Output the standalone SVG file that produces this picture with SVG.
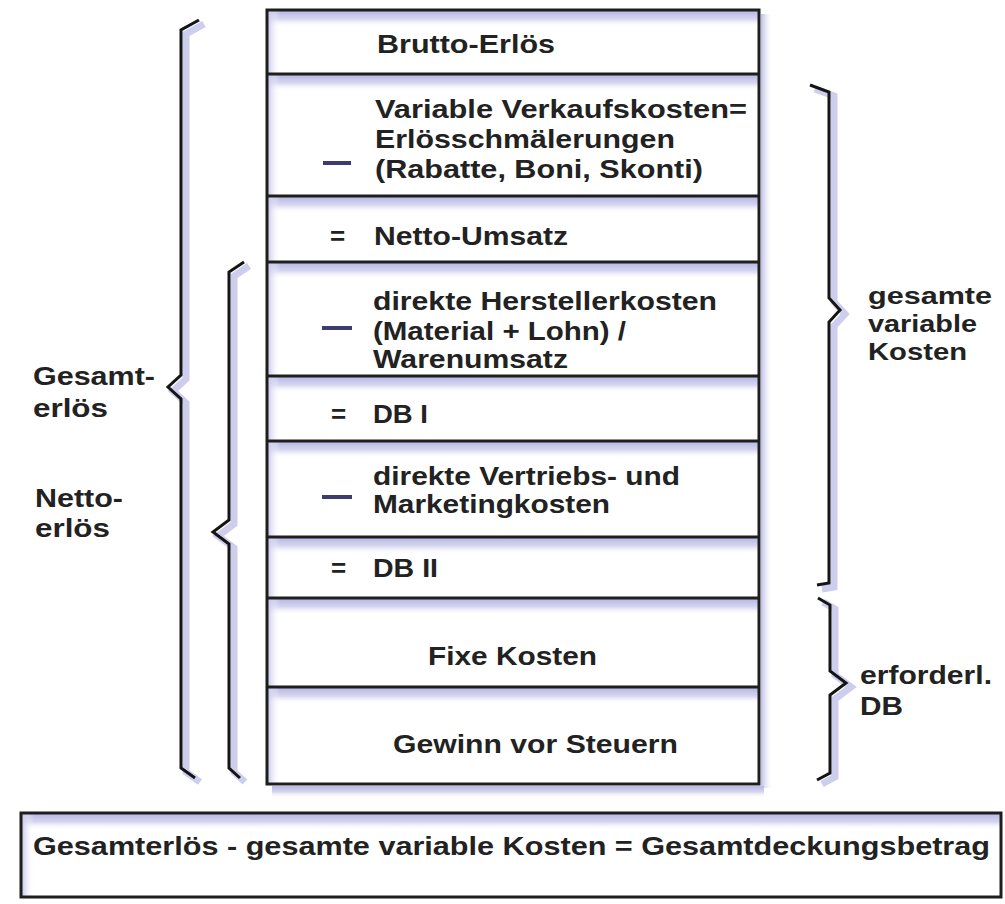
<svg xmlns="http://www.w3.org/2000/svg" width="1005" height="904" viewBox="0 0 1005 904">
<defs>
<linearGradient id="gTop" x1="0" y1="0" x2="0" y2="1"><stop offset="0" stop-color="#b8b8e4"/><stop offset="0.5" stop-color="#d6d6f0"/><stop offset="1" stop-color="#ffffff" stop-opacity="0"/></linearGradient>
<linearGradient id="gLeft" x1="0" y1="0" x2="1" y2="0"><stop offset="0" stop-color="#c8c8ec"/><stop offset="1" stop-color="#ffffff" stop-opacity="0"/></linearGradient>
<linearGradient id="gRight" x1="0" y1="0" x2="1" y2="0"><stop offset="0" stop-color="#bcbce6"/><stop offset="1" stop-color="#ffffff" stop-opacity="0"/></linearGradient>
</defs>
<style>
.t{font-family:"Liberation Sans",Arial,sans-serif;font-weight:bold;font-size:26px;fill:#222}
.s{font-size:24px}
.ln{stroke:#1e1e1e;stroke-width:3;fill:none}
.br{stroke:#151515;stroke-width:3;fill:none;stroke-linejoin:miter}
.bs{stroke:#c4c4ea;stroke-width:7;fill:none;opacity:0.85}
.dash{stroke:#3c3c6e;stroke-width:4}
</style>
<rect width="1005" height="904" fill="#ffffff"/>

<rect x="761" y="14" width="12" height="774" fill="url(#gRight)"/>
<rect x="272" y="786" width="492" height="12" fill="url(#gTop)"/>

<g id="rows">
<g id="row-brutto"><rect x="268" y="11" width="490" height="16" fill="url(#gTop)"/><rect x="268" y="11" width="12" height="63" fill="url(#gLeft)"/><text class="t" x="377" y="53" textLength="178" lengthAdjust="spacingAndGlyphs">Brutto-Erlös</text></g>
<g id="row-varverk"><rect x="268" y="75" width="490" height="16" fill="url(#gTop)"/><rect x="268" y="75" width="12" height="120" fill="url(#gLeft)"/><line class="dash" x1="323" y1="163" x2="351" y2="163"/><text class="t" x="375" y="118" textLength="372" lengthAdjust="spacingAndGlyphs">Variable Verkaufskosten=</text><text class="t" x="375" y="148" textLength="300" lengthAdjust="spacingAndGlyphs">Erlösschmälerungen</text><text class="t" x="375" y="178" textLength="328" lengthAdjust="spacingAndGlyphs">(Rabatte, Boni, Skonti)</text></g>
<g id="row-netto"><rect x="268" y="197" width="490" height="16" fill="url(#gTop)"/><rect x="268" y="197" width="12" height="64" fill="url(#gLeft)"/><text class="t" x="330" y="245">=</text><text class="t" x="374" y="245" textLength="194" lengthAdjust="spacingAndGlyphs">Netto-Umsatz</text></g>
<g id="row-herst"><rect x="268" y="263" width="490" height="16" fill="url(#gTop)"/><rect x="268" y="263" width="12" height="112" fill="url(#gLeft)"/><line class="dash" x1="322" y1="328" x2="352" y2="328"/><text class="t" x="373" y="310" textLength="344" lengthAdjust="spacingAndGlyphs">direkte Herstellerkosten</text><text class="t" x="373" y="340" textLength="253" lengthAdjust="spacingAndGlyphs">(Material + Lohn) /</text><text class="t" x="373" y="368" textLength="195" lengthAdjust="spacingAndGlyphs">Warenumsatz</text></g>
<g id="row-db1"><rect x="268" y="377" width="490" height="16" fill="url(#gTop)"/><rect x="268" y="377" width="12" height="63" fill="url(#gLeft)"/><text class="t" x="331" y="423">=</text><text class="t" x="373" y="423" textLength="55" lengthAdjust="spacingAndGlyphs">DB I</text></g>
<g id="row-vertr"><rect x="268" y="442" width="490" height="16" fill="url(#gTop)"/><rect x="268" y="442" width="12" height="94" fill="url(#gLeft)"/><line class="dash" x1="322" y1="497" x2="352" y2="497"/><text class="t" x="373" y="485" textLength="307" lengthAdjust="spacingAndGlyphs">direkte Vertriebs- und</text><text class="t" x="373" y="513" textLength="237" lengthAdjust="spacingAndGlyphs">Marketingkosten</text></g>
<g id="row-db2"><rect x="268" y="538" width="490" height="16" fill="url(#gTop)"/><rect x="268" y="538" width="12" height="59" fill="url(#gLeft)"/><text class="t" x="331" y="577">=</text><text class="t" x="373" y="577" textLength="65" lengthAdjust="spacingAndGlyphs">DB II</text></g>
<g id="row-fix"><rect x="268" y="599" width="490" height="16" fill="url(#gTop)"/><rect x="268" y="599" width="12" height="87" fill="url(#gLeft)"/><text class="t" x="428" y="665" textLength="169" lengthAdjust="spacingAndGlyphs">Fixe Kosten</text></g>
<g id="row-gewinn"><rect x="268" y="688" width="490" height="16" fill="url(#gTop)"/><rect x="268" y="688" width="12" height="95" fill="url(#gLeft)"/><text class="t" x="393" y="753" textLength="285" lengthAdjust="spacingAndGlyphs">Gewinn vor Steuern</text></g>
</g>

<g id="box-lines">
<rect class="ln" x="267" y="10" width="492" height="774"/>
<line class="ln" x1="267" y1="74" x2="759" y2="74"/>
<line class="ln" x1="267" y1="196" x2="759" y2="196"/>
<line class="ln" x1="267" y1="262" x2="759" y2="262"/>
<line class="ln" x1="267" y1="376" x2="759" y2="376"/>
<line class="ln" x1="267" y1="441" x2="759" y2="441"/>
<line class="ln" x1="267" y1="537" x2="759" y2="537"/>
<line class="ln" x1="267" y1="598" x2="759" y2="598"/>
<line class="ln" x1="267" y1="687" x2="759" y2="687"/>
</g>

<g id="connectors">
<g id="brace-gesamterloes">
<path class="bs" d="M204,24 L186,34 L186,379 L173,391 L186,403 L186,772 L200,782"/>
<path class="br" d="M199,20 L181,30 L181,375 L168,387 L181,399 L181,768 L195,778"/>
</g>
<g id="brace-nettoerloes">
<path class="bs" d="M249,266 L234,276 L234,524 L218,536 L234,548 L234,772 L245,782"/>
<path class="br" d="M244,262 L229,272 L229,520 L213,532 L229,544 L229,768 L240,778"/>
</g>
<g id="brace-varkosten">
<path class="bs" d="M815,89 L834,96 L834,302 L845,314 L834,326 L834,587 L822,589"/>
<path class="br" d="M810,85 L829,92 L829,298 L840,310 L829,322 L829,583 L817,585"/>
</g>
<g id="brace-erfdb">
<path class="bs" d="M823,602 L835,609 L835,675 L851,687 L835,699 L835,777 L822,784"/>
<path class="br" d="M818,598 L830,605 L830,671 L846,683 L830,695 L830,773 L817,780"/>
</g>
</g>

<g id="label-gesamterloes"><text class="t" x="33" y="385" textLength="122" lengthAdjust="spacingAndGlyphs">Gesamt-</text><text class="t" x="33" y="417" textLength="75" lengthAdjust="spacingAndGlyphs">erlös</text></g>
<g id="label-nettoerloes"><text class="t" x="35" y="507" textLength="88" lengthAdjust="spacingAndGlyphs">Netto-</text><text class="t" x="35" y="537" textLength="75" lengthAdjust="spacingAndGlyphs">erlös</text></g>
<g id="label-varkosten"><text class="t s" x="868" y="304" textLength="124" lengthAdjust="spacingAndGlyphs">gesamte</text><text class="t s" x="868" y="332" textLength="109" lengthAdjust="spacingAndGlyphs">variable</text><text class="t s" x="868" y="360" textLength="99" lengthAdjust="spacingAndGlyphs">Kosten</text></g>
<g id="label-erfdb"><text class="t" x="860" y="684" textLength="132" lengthAdjust="spacingAndGlyphs">erforderl.</text><text class="t" x="860" y="715" textLength="43" lengthAdjust="spacingAndGlyphs">DB</text></g>

<g id="formula">
<rect x="22" y="814" width="978" height="16" fill="url(#gTop)"/>
<rect x="22" y="814" width="12" height="82" fill="url(#gLeft)"/>
<rect class="ln" x="21" y="813" width="980" height="84"/>
<text class="t" x="33" y="855" textLength="957" lengthAdjust="spacingAndGlyphs">Gesamterlös - gesamte variable Kosten = Gesamtdeckungsbetrag</text>
</g>
</svg>
